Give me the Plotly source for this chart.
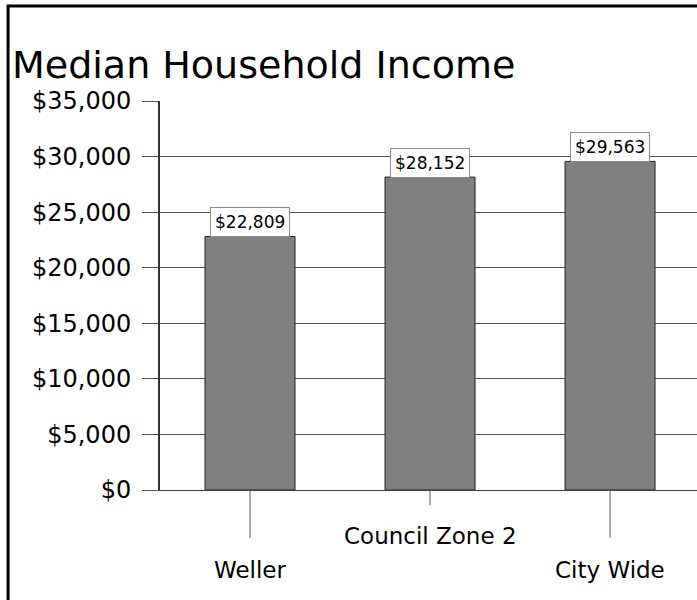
import plotly.graph_objects as go

categories = ["Weller", "Council Zone 2", "City Wide"]
values = [22809, 28152, 29563]
value_labels = ["$22,809", "$28,152", "$29,563"]
y_ticks = [0, 5000, 10000, 15000, 20000, 25000, 30000, 35000]
y_tick_labels = ["$0", "$5,000", "$10,000", "$15,000", "$20,000", "$25,000", "$30,000", "$35,000"]
label_rows = ["low", "high", "low"]

FONT = "Comic Sans MS, DejaVu Sans, sans-serif"

fig = go.Figure()
fig.add_trace(go.Bar(
    x=categories, y=values, width=0.5,
    marker=dict(color="#808080", line=dict(color="#222222", width=1)),
    hoverinfo="skip",
))

# data labels in boxes
for c, v, t in zip(categories, values, value_labels):
    fig.add_annotation(x=c, y=v, xref="x", yref="y", text=t, showarrow=False,
                       yanchor="bottom", yshift=-1,
                       font=dict(family=FONT, size=17, color="black"),
                       bgcolor="white", bordercolor="#888888", borderwidth=1, borderpad=4)

# staggered category labels with leader lines
for c, row in zip(categories, label_rows):
    if row == "low":
        y_end, y_txt = -0.123, -0.206
    else:
        y_end, y_txt = -0.039, -0.117
    fig.add_shape(type="line", xref="x", yref="paper", x0=c, x1=c, y0=0, y1=y_end,
                  line=dict(color="#555555", width=1))
    fig.add_annotation(x=c, y=y_txt, xref="x", yref="paper", text=c, showarrow=False,
                       yanchor="middle", font=dict(family=FONT, size=23, color="black"))

# outer frame
fig.add_shape(type="rect", xref="paper", yref="paper", x0=-0.283, x1=1.2, y0=-0.6, y1=1.244,
              line=dict(color="black", width=3), layer="above")

fig.update_layout(
    width=697, height=600,
    margin=dict(l=160, r=0, t=101, b=110),
    paper_bgcolor="white", plot_bgcolor="white",
    showlegend=False,
    title=dict(text="Median Household Income", xref="container", yref="container",
               x=12/697, xanchor="left", y=1-65/600, yanchor="middle",
               font=dict(family=FONT, size=38, color="black")),
    xaxis=dict(range=[-0.5, 2.483], showticklabels=False, ticks="",
               showline=True, linecolor="#444444", linewidth=1, showgrid=False,
               zeroline=False),
    yaxis=dict(range=[0, 35000], tickvals=y_ticks, ticktext=y_tick_labels,
               ticks="outside", ticklen=16, tickcolor="#555555", tickwidth=1,
               ticklabelstandoff=6,
               tickfont=dict(family=FONT, size=24, color="black"),
               showline=True, linecolor="#333333", linewidth=2,
               showgrid=True, gridcolor="#555555", gridwidth=1, zeroline=False),
)

fig.write_html("out.html",
               config={"displayModeBar": False},
               post_script="document.body.style.margin='0';document.body.style.overflow='hidden';")
